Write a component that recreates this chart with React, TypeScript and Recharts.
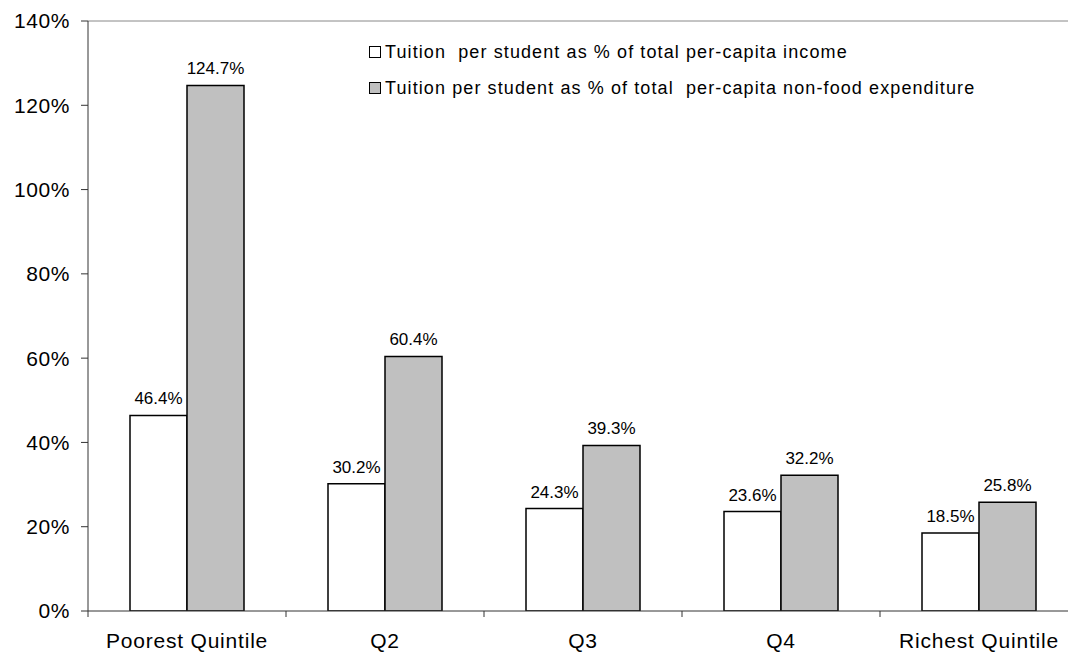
import React from 'react';
import { BarChart, Bar, XAxis, YAxis, LabelList, ReferenceLine } from 'recharts';

const categories = ['Poorest Quintile', 'Q2', 'Q3', 'Q4', 'Richest Quintile'];
const incomeShare = [0.464, 0.302, 0.243, 0.236, 0.185];
const nonFoodShare = [1.247, 0.604, 0.393, 0.322, 0.258];
const yTicks = [0, 0.2, 0.4, 0.6, 0.8, 1.0, 1.2, 1.4];

const SERIES = [
  { key: 'income', name: 'Tuition  per student as % of total per-capita income', fill: '#ffffff' },
  { key: 'nonFood', name: 'Tuition per student as % of total  per-capita non-food expenditure', fill: '#c0c0c0' },
];

const data = categories.map((name, i) => ({
  name,
  income: incomeShare[i],
  nonFood: nonFoodShare[i],
}));

const FONT = 'Arial, "Liberation Sans", sans-serif';
const CHART_W = 1080;
const CHART_H = 652;
const LEFT = 88;
const RIGHT_MARGIN = 2;
const HALF_BAND = (CHART_W - LEFT - RIGHT_MARGIN) / categories.length / 2;

const pct = (v: number) => `${Math.round(v * 100)}%`;
const pct1 = (v: number) => `${(v * 100).toFixed(1)}%`;

// category label plus the boundary ticks between categories
const XTick = (props: any) => {
  const { x, y, payload, index } = props;
  return (
    <g>
      {index === 0 && (
        <line x1={x - HALF_BAND} y1={y} x2={x - HALF_BAND} y2={y + 6} stroke="#333" strokeWidth={1} />
      )}
      <line x1={x + HALF_BAND} y1={y} x2={x + HALF_BAND} y2={y + 6} stroke="#333" strokeWidth={1} />
      <text
        x={x}
        y={y + 37}
        textAnchor="middle"
        fontSize={21}
        letterSpacing={0.8}
        fontFamily={FONT}
        fill="#000"
      >
        {payload.value}
      </text>
    </g>
  );
};

const LegendBox = () => (
  <div
    style={{
      position: 'absolute',
      left: 369,
      top: 34,
      fontFamily: FONT,
      fontSize: 18,
      letterSpacing: 1.1,
      color: '#000',
      lineHeight: '36px',
    }}
  >
    {SERIES.map((s) => (
      <div key={s.key} style={{ display: 'flex', alignItems: 'center', whiteSpace: 'pre' }}>
        <span
          style={{
            display: 'inline-block',
            width: 10,
            height: 10,
            border: '1px solid #000',
            background: s.fill,
            marginRight: 4,
          }}
        />
        {s.name}
      </div>
    ))}
  </div>
);

export default function App() {
  return (
    <div style={{ position: 'fixed', left: 0, top: 0, width: 1068, height: 652, overflow: 'hidden', background: '#fff' }}>
      <BarChart
        width={CHART_W}
        height={CHART_H}
        data={data}
        margin={{ top: 21, right: RIGHT_MARGIN, bottom: 0, left: 0 }}
        barGap={0}
        barSize={57}
      >
        <XAxis
          dataKey="name"
          height={41}
          tick={<XTick />}
          tickLine={false}
          tickSize={0}
          tickMargin={0}
          axisLine={{ stroke: '#333', strokeWidth: 1 }}
          interval={0}
        />
        <YAxis
          width={LEFT}
          domain={[0, 1.4]}
          ticks={yTicks}
          tickFormatter={pct}
          tickSize={7}
          tickMargin={11}
          tickLine={{ stroke: '#333' }}
          axisLine={{ stroke: '#333', strokeWidth: 1 }}
          tick={{ fontSize: 21, letterSpacing: 0.6, fontFamily: FONT, fill: '#000' }}
          allowDataOverflow
        />
        <ReferenceLine y={1.4} stroke="#888" strokeWidth={1} />
        {SERIES.map((s) => (
          <Bar
            key={s.key}
            dataKey={s.key}
            name={s.name}
            fill={s.fill}
            stroke="#000"
            strokeWidth={1.5}
            isAnimationActive={false}
          >
            <LabelList
              dataKey={s.key}
              position="top"
              offset={11}
              formatter={(v: any) => pct1(Number(v))}
              style={{ fontSize: 17, fontFamily: FONT, fill: '#000' }}
            />
          </Bar>
        ))}
      </BarChart>
      <LegendBox />
    </div>
  );
}
